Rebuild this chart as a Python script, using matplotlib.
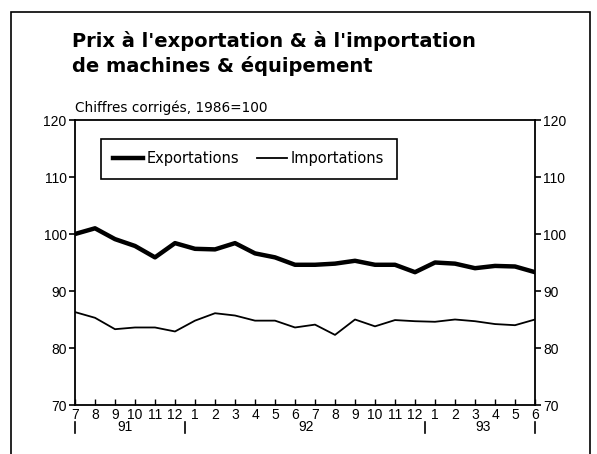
import matplotlib.pyplot as plt
import matplotlib.transforms as mtransforms
from matplotlib.patches import Rectangle

plt.rcParams['font.family'] = ['Liberation Sans', 'DejaVu Sans']

# monthly, July 1991 to June 1993
months = ['7', '8', '9', '10', '11', '12',
          '1', '2', '3', '4', '5', '6', '7', '8', '9', '10', '11', '12',
          '1', '2', '3', '4', '5', '6']
exportations = [100.0, 101.0, 99.1, 97.9, 95.9, 98.4,
                97.4, 97.3, 98.4, 96.6, 95.9, 94.6, 94.6, 94.8, 95.3, 94.6, 94.6, 93.3,
                95.0, 94.8, 94.0, 94.4, 94.3, 93.3]
importations = [86.3, 85.3, 83.3, 83.6, 83.6, 82.9,
                84.8, 86.1, 85.7, 84.8, 84.8, 83.6, 84.1, 82.3, 85.0, 83.8, 84.9, 84.7,
                84.6, 85.0, 84.7, 84.2, 84.0, 85.0]
years = ['91', '92', '93']
year_pos = [2.5, 11.55, 20.4]
year_breaks = [0, 5.5, 17.5, 23]

fig = plt.figure(figsize=(5.97, 4.54), dpi=100)
ax = fig.add_axes([75 / 597, 1 - 405 / 454, 460 / 597, 285 / 454])

x = list(range(len(months)))
ax.plot(x, exportations, color='black', lw=3.2, solid_joinstyle='round', label='Exportations')
ax.plot(x, importations, color='black', lw=1.3, label='Importations')

ax.set_xlim(0, 23)
ax.set_ylim(70, 120)
ax.set_yticks([70, 80, 90, 100, 110, 120])
ax.tick_params(axis='y', direction='out', length=4, width=1.2, labelsize=10,
               left=True, right=True, labelleft=True, labelright=True, pad=2)
ax.set_xticks(x)
ax.set_xticklabels(months)
ax.tick_params(axis='x', direction='in', length=4, width=1, labelsize=10, pad=2.5)
for s in ax.spines.values():
    s.set_linewidth(1.3)

# year separators and labels under the month labels
trans = mtransforms.blended_transform_factory(ax.transData, ax.transAxes)
for b in year_breaks:
    ax.plot([b, b], [-0.06, -0.097], color='black', lw=1.2, transform=trans, clip_on=False)
for yl, p in zip(years, year_pos):
    ax.text(p, -0.078, yl, transform=trans, ha='center', va='center', fontsize=10)

leg = ax.legend(loc='upper left', bbox_to_anchor=(0.0565, 0.5, 0.643, 0.433), mode='expand',
                ncol=2, frameon=True, fancybox=False, edgecolor='black', framealpha=1,
                prop={'family': 'DejaVu Sans', 'size': 10.5}, handlelength=2.0,
                borderpad=0.85, handletextpad=0.3, borderaxespad=0)
leg.get_frame().set_linewidth(1.2)

fig.text(72 / 597, 1 - 47 / 454, "Prix à l'exportation & à l'importation",
         family='DejaVu Sans', fontsize=14, fontweight='bold', ha='left', va='baseline')
fig.text(72 / 597, 1 - 72 / 454, "de machines & équipement",
         family='DejaVu Sans', fontsize=14, fontweight='bold', ha='left', va='baseline')
fig.text(75 / 597, 1 - 112 / 454, 'Chiffres corrigés, 1986=100',
         family='DejaVu Sans', fontsize=9.8, ha='left', va='baseline')

fig.patches.append(Rectangle((11 / 597, -0.05), 579 / 597, 1 - 12 / 454 + 0.05,
                             transform=fig.transFigure, fill=False, lw=1.2,
                             edgecolor='black', figure=fig))

fig.savefig('out.png', dpi=100)
